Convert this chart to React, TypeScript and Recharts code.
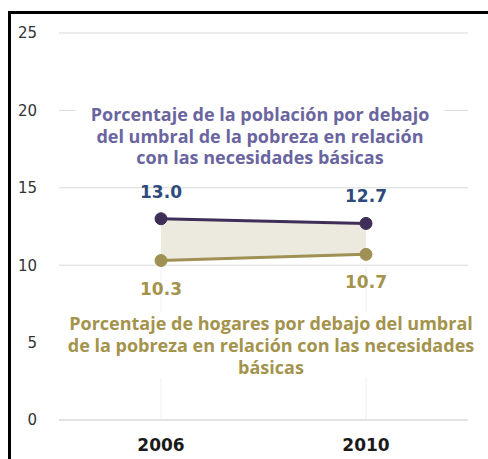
import React from "react";
import {
  ComposedChart,
  Line,
  Area,
  XAxis,
  YAxis,
  CartesianGrid,
  LabelList,
  ReferenceLine,
} from "recharts";

const years = ["2006", "2010"];
const poblacion = [13.0, 12.7];
const hogares = [10.3, 10.7];
const yTicks = [0, 5, 10, 15, 20, 25];
const separatorTicks = [0, 1, 2];

const poblacionText = [
  "Porcentaje de la población por debajo",
  "del umbral de la pobreza en relación",
  "con las necesidades básicas",
];
const hogaresText = [
  "Porcentaje de hogares por debajo del umbral",
  "de la pobreza en relación con las necesidades",
  "básicas",
];

const data = years.map((year, i) => ({
  year,
  poblacion: poblacion[i],
  hogares: hogares[i],
  rango: [hogares[i], poblacion[i]],
}));

const PURPLE_LINE = "#3f2e58";
const BLUE_LABEL = "#2e4b7c";
const OLIVE = "#9f9054";
const OLIVE_TEXT = "#a4934c";
const PURPLE_TEXT = "#6a65a0";
const GRID = "#d9d9d9";

const fmt = (v: any) => Number(v).toFixed(1);

export default function App() {
  return (
    <div
      style={{
        position: "absolute",
        left: 0,
        top: 0,
        width: 488,
        height: 459,
        overflow: "hidden",
        background: "#fff",
      }}
    >
      <div
        style={{
          position: "absolute",
          left: 8,
          top: 11,
          width: 600,
          height: 600,
          borderTop: "3px solid #000",
          borderLeft: "3px solid #000",
        }}
      />
      <div style={{ position: "absolute", left: 0, top: 0 }}>
        <ComposedChart
          width={488}
          height={459}
          data={data}
          margin={{ top: 33, right: 20, bottom: 0, left: 0 }}
        >
          <CartesianGrid vertical={false} stroke={GRID} />
          <XAxis
            xAxisId="sep"
            type="number"
            domain={[0, 2]}
            ticks={separatorTicks}
            tick={false}
            tickSize={6}
            axisLine={false}
            stroke={GRID}
            height={0}
          />
          <XAxis
            dataKey="year"
            padding={{ left: 102, right: 102 }}
            height={39}
            tickLine={false}
            tickSize={0}
            tickMargin={19}
            axisLine={{ stroke: GRID }}
            tick={{
              fill: "#1a1a1a",
              fontSize: 17,
              fontWeight: "bold",
              fontFamily: "DejaVu Sans",
            }}
          />
          <YAxis
            width={59}
            domain={[0, 25]}
            ticks={yTicks}
            axisLine={false}
            tickLine={false}
            tickSize={0}
            tickMargin={22}
            tick={{ fill: "#333", fontSize: 15, fontFamily: "DejaVu Sans" }}
          />
          <Area
            dataKey="rango"
            fill="#ece9df"
            fillOpacity={1}
            stroke="none"
            isAnimationActive={false}
          />
          {years.map((year, i) => (
            <ReferenceLine
              key={year}
              segment={[
                { x: year, y: 0 },
                { x: year, y: hogares[i] },
              ]}
              stroke="#f0f0f0"
            />
          ))}
          <Line
            dataKey="poblacion"
            stroke={PURPLE_LINE}
            strokeWidth={3}
            dot={{ r: 6, fill: PURPLE_LINE, stroke: PURPLE_LINE, strokeWidth: 1 }}
            isAnimationActive={false}
          >
            <LabelList
              dataKey="poblacion"
              position="top"
              offset={21}
              formatter={fmt}
              fill={BLUE_LABEL}
              fontSize={17}
              fontWeight="bold"
              fontFamily="DejaVu Sans"
            />
          </Line>
          <Line
            dataKey="hogares"
            stroke={OLIVE}
            strokeWidth={3}
            dot={{ r: 6, fill: OLIVE, stroke: OLIVE, strokeWidth: 1 }}
            isAnimationActive={false}
          >
            <LabelList
              dataKey="hogares"
              position="bottom"
              offset={22}
              formatter={fmt}
              fill={OLIVE_TEXT}
              fontSize={17}
              fontWeight="bold"
              fontFamily="DejaVu Sans"
            />
          </Line>
        </ComposedChart>
      </div>
      <div
        style={{
          position: "absolute",
          left: 75,
          top: 104,
          width: 370,
          background: "#fff",
          color: PURPLE_TEXT,
          fontFamily: "Open Sans",
          fontWeight: "bold",
          fontSize: 18,
          lineHeight: "21.5px",
          textAlign: "center",
          whiteSpace: "nowrap",
        }}
      >
        {poblacionText.map((t) => (
          <div key={t}>{t}</div>
        ))}
      </div>
      <div
        style={{
          position: "absolute",
          left: 58,
          top: 312,
          width: 426,
          background: "#fff",
          color: OLIVE_TEXT,
          fontFamily: "Open Sans",
          fontWeight: "bold",
          fontSize: 18,
          lineHeight: "22px",
          textAlign: "center",
          whiteSpace: "nowrap",
        }}
      >
        {hogaresText.map((t) => (
          <div key={t}>{t}</div>
        ))}
      </div>
    </div>
  );
}
